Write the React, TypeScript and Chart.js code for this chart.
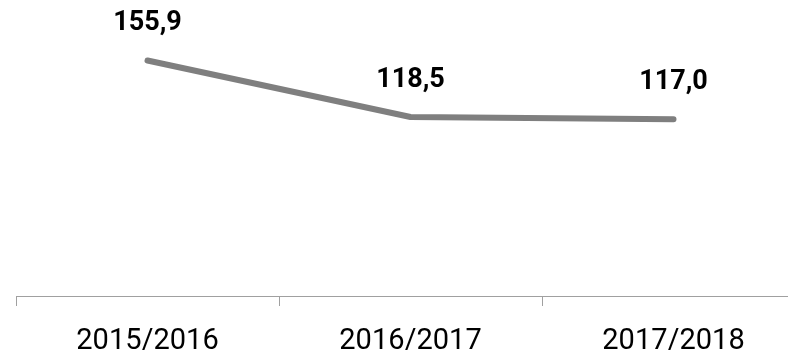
import React, { useEffect, useRef } from "react";
import { Chart, registerables } from "chart.js";

Chart.register(...registerables);

const categories = ["2015/2016", "2016/2017", "2017/2018"];
const values = [155.9, 118.5, 117.0];
const valueLabels = ["155,9", "118,5", "117,0"];

const labelPlugin = {
  id: "valueLabels",
  afterDatasetsDraw(chart: any) {
    const ctx = chart.ctx;
    const meta = chart.getDatasetMeta(0);
    ctx.save();
    ctx.font = "bold 27px Roboto";
    ctx.fillStyle = "#000";
    ctx.textAlign = "center";
    ctx.textBaseline = "middle";
    meta.data.forEach((pt: any, i: number) => {
      ctx.fillText(valueLabels[i], pt.x, pt.y - 37);
    });
    ctx.restore();
  },
};

export default function App() {
  const ref = useRef<HTMLCanvasElement | null>(null);
  useEffect(() => {
    if (!ref.current) return;
    const chart = new Chart(ref.current, {
      type: "line",
      data: {
        labels: categories,
        datasets: [
          {
            data: values,
            borderColor: "#7f7f7f",
            borderWidth: 6,
            borderCapStyle: "round",
            borderJoinStyle: "round",
            pointRadius: 0,
            tension: 0,
            fill: false,
          },
        ],
      },
      options: {
        responsive: false,
        animation: false,
        layout: { padding: { left: 16, right: 5, top: 9, bottom: 0 } },
        plugins: { legend: { display: false }, tooltip: { enabled: false } },
        scales: {
          x: {
            offset: true,
            grid: {
              offset: true,
              drawOnChartArea: false,
              drawTicks: true,
              tickLength: 10,
              color: "#a0a0a0",
            },
            border: { color: "#a0a0a0", width: 1 },
            ticks: {
              color: "#000",
              padding: 21,
              font: { family: "Roboto", size: 29, lineHeight: 1 },
              maxRotation: 0,
            },
          },
          y: { display: false, min: 0, max: 190 },
        },
      },
      plugins: [labelPlugin],
    });
    return () => chart.destroy();
  }, []);
  return (
    <div style={{ position: "absolute", left: 0, top: 0, width: 788, height: 350, overflow: "hidden", background: "#fff" }}>
      <canvas ref={ref} width={810} height={377} style={{ display: "block" }} />
    </div>
  );
}
